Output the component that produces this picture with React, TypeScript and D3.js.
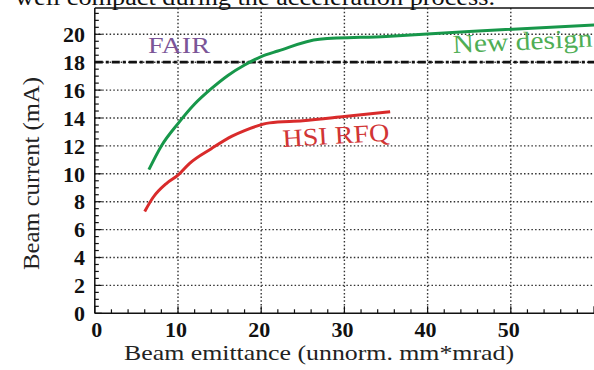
import React from "react";
import * as d3 from "d3";

const newDesignX = [6.5, 8, 10, 12, 14, 16, 18, 20, 22, 27, 35, 45, 61];
const newDesignY = [10.3, 12.0, 13.6, 15.0, 16.1, 17.05, 17.8, 18.4, 18.8, 19.65, 19.85, 20.2, 20.7];
const hsiX = [6.0, 7, 8.6, 10, 11.4, 14, 16.5, 18, 21, 25, 30, 35.5];
const hsiY = [7.3, 8.3, 9.3, 9.9, 10.75, 11.8, 12.7, 13.1, 13.65, 13.8, 14.1, 14.45];
const xTicks = [0, 10, 20, 30, 40, 50];
const yTicks = [0, 2, 4, 6, 8, 10, 12, 14, 16, 18, 20];
const fairLevel = 18;

const W = 594;
const H = 370;

export default function App() {
  const x = d3.scaleLinear().domain([0, 60]).range([94.8, 594]);
  const y = d3.scaleLinear().domain([0, 20]).range([313.3, 34.3]);
  const top = 8;
  const right = 600;
  const bottom = y(0);
  const left = x(0);

  const line = d3
    .line<[number, number]>()
    .x((d) => x(d[0]))
    .y((d) => y(d[1]))
    .curve(d3.curveMonotoneX);

  const green = newDesignX.map((v, i) => [v, newDesignY[i]] as [number, number]);
  const red = hsiX.map((v, i) => [v, hsiY[i]] as [number, number]);

  const yMinor = d3.range(0, 21.6, 0.5);
  const xMinor = d3.range(0, 61, 2);
  const serif = "'Liberation Serif', 'Times New Roman', serif";

  return (
    <svg
      width={W}
      height={H}
      style={{ position: "absolute", left: 0, top: 0, background: "#fff" }}
      fontFamily={serif}
    >
      <rect x={0} y={0} width={W} height={H} fill="#fff" />
      <text
        x={15}
        y={4.5}
        fontSize={23}
        fill="#111"
        textLength={480}
        lengthAdjust="spacingAndGlyphs"
      >
        well compact during the acceleration process.
      </text>

      {/* grid */}
      {yTicks
        .filter((t) => t > 0)
        .map((t) => (
          <line
            key={"gy" + t}
            x1={left}
            x2={right}
            y1={y(t)}
            y2={y(t)}
            stroke="#333"
            strokeWidth={1.4}
            strokeDasharray="1.5,2.2"
          />
        ))}
      {xTicks
        .filter((t) => t > 0)
        .map((t) => (
          <line
            key={"gx" + t}
            x1={x(t)}
            x2={x(t)}
            y1={top}
            y2={bottom}
            stroke="#333"
            strokeWidth={1.4}
            strokeDasharray="1.5,2.2"
          />
        ))}

      {/* FAIR level */}
      <line
        x1={left}
        x2={right}
        y1={y(fairLevel)}
        y2={y(fairLevel)}
        stroke="#111"
        strokeWidth={2.8}
        strokeDasharray="8,3,3,3"
      />

      {/* curves */}
      <path d={line(green) || ""} fill="none" stroke="#17974a" strokeWidth={3} />
      <path d={line(red) || ""} fill="none" stroke="#d92b2b" strokeWidth={3} />

      {/* frame */}
      <line x1={left} x2={right} y1={top} y2={top} stroke="#111" strokeWidth={1.5} />
      <line x1={left} x2={left} y1={top} y2={bottom} stroke="#111" strokeWidth={1.5} />
      <line x1={left} x2={right} y1={bottom} y2={bottom} stroke="#111" strokeWidth={1.5} />

      {/* ticks */}
      {yMinor.map((t) => (
        <line
          key={"ty" + t}
          x1={left}
          x2={left + (t % 2 === 0 ? 7 : 4)}
          y1={y(t)}
          y2={y(t)}
          stroke="#111"
          strokeWidth={1.2}
        />
      ))}
      {xMinor.map((t) => (
        <line
          key={"tx" + t}
          x1={x(t)}
          x2={x(t)}
          y1={bottom}
          y2={bottom - (t % 10 === 0 ? 7 : 4)}
          stroke="#111"
          strokeWidth={1.2}
        />
      ))}

      {/* tick labels */}
      {yTicks.map((t) => (
        <text
          key={"ly" + t}
          x={85}
          y={y(t)}
          dy="0.35em"
          textAnchor="end"
          fontSize={22}
          fontWeight="bold"
          fill="#111"
        >
          {t}
        </text>
      ))}
      {xTicks.map((t) => (
        <text
          key={"lx" + t}
          x={x(t) + (t === 0 ? 2 : -2)}
          y={337}
          textAnchor="middle"
          fontSize={22}
          fontWeight="bold"
          fill="#111"
        >
          {t}
        </text>
      ))}

      {/* axis titles */}
      <text
        x={124}
        y={360}
        fontSize={22}
        fill="#222"
        textLength={390}
        lengthAdjust="spacingAndGlyphs"
      >
        Beam emittance (unnorm. mm*mrad)
      </text>
      <text
        transform="translate(39,270) rotate(-90)"
        fontSize={23}
        fill="#222"
        textLength={193}
        lengthAdjust="spacingAndGlyphs"
      >
        Beam current (mA)
      </text>

      {/* annotations */}
      <text
        x={148}
        y={53}
        fontSize={24}
        fill="#7b5597"
        textLength={62}
        lengthAdjust="spacingAndGlyphs"
      >
        FAIR
      </text>
      <text
        transform="translate(453,53) rotate(-2.6)"
        fontSize={26}
        fill="#4fae55"
        textLength={140}
        lengthAdjust="spacingAndGlyphs"
      >
        New design
      </text>
      <text
        transform="translate(283,147) rotate(-3.5)"
        fontSize={25}
        fill="#d13535"
        textLength={107}
        lengthAdjust="spacingAndGlyphs"
      >
        HSI RFQ
      </text>
    </svg>
  );
}
